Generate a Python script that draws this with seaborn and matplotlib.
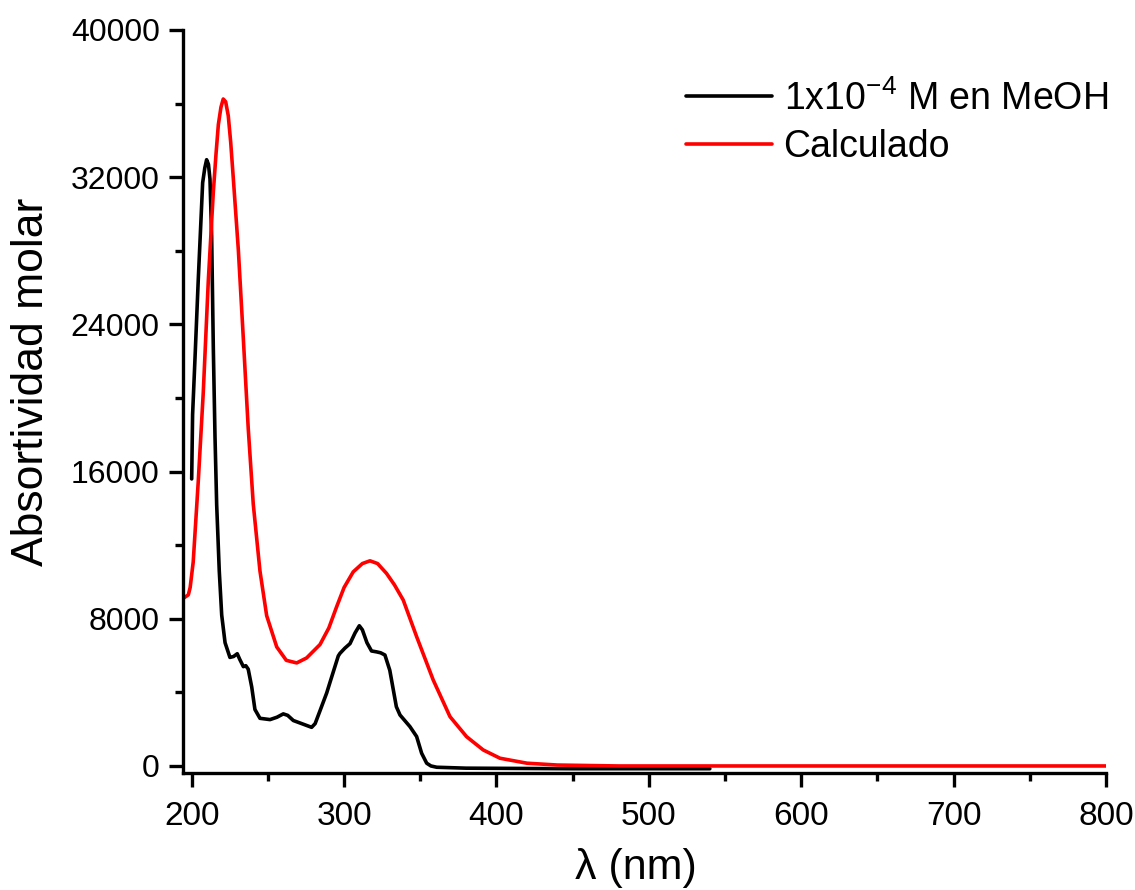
import matplotlib
matplotlib.use("Agg")
import matplotlib.pyplot as plt
import seaborn as sns
import numpy as np
import pandas as pd
from matplotlib.ticker import MultipleLocator

# ---- data ----
exp_nm = [200, 200.6, 202.2, 204.3, 207.2, 208.6, 209.8, 211, 212, 213.1, 214.2, 215.3, 216.4,
          218.1, 219.7, 221.9, 225.1, 227.5, 229.9, 231.5, 233.9, 235.5, 237.1, 239.4,
          241.5, 244.8, 251.4, 256, 260.1, 263, 266.7, 273.2, 278.7, 281, 284.2, 288.6,
          290.7, 294, 296.2, 297.3, 300.5, 303.9, 307.2, 310, 312, 315, 318, 321.4, 324,
          326.8, 330, 334.3, 336.7, 340, 343.2, 347.6, 350.9, 354.2, 357, 360.8, 380,
          450, 540]
exp_abs = [15600, 19100, 22200, 26400, 31700, 32500, 32950, 32700, 31900, 28800, 22700, 17900, 14200,
           10600, 8200, 6700, 5900, 5950, 6100, 5800, 5400, 5450, 5260, 4290,
           3070, 2590, 2520, 2650, 2830, 2750, 2470, 2270, 2100, 2300, 3000, 3970,
           4530, 5400, 5980, 6120, 6400, 6650, 7230, 7620, 7400, 6700, 6250, 6200, 6150,
           6030, 5200, 3220, 2770, 2450, 2140, 1600, 690, 150, 0, -70, -120,
           -150, -150]

calc_nm = [195, 197.8, 199, 201, 204.3, 207.6, 210.9, 214.2, 216, 217.5, 219.2, 220.7, 222.3,
           224, 225.6, 227.3, 230.6, 233.9, 237.1, 240.4, 244.8, 249.2, 255.8, 262.1, 268.9,
           275.4, 284.2, 290, 295.1, 300, 306, 312, 317, 322, 327.8, 333, 338.8, 347.6, 358.5,
           369.5, 380.4, 391.3, 402.3, 420, 440, 480, 800]
calc_abs = [9140, 9300, 9700, 11090, 15450, 20300, 26360, 31200, 33300, 34860, 35800, 36250, 36100,
            35340, 33900, 31950, 28070, 23210, 18360, 14240, 10600, 8170, 6470, 5740, 5600,
            5870, 6600, 7500, 8650, 9700, 10550, 11000, 11150, 11000, 10470, 9850, 9020, 7030, 4670,
            2680, 1590, 870, 420, 150, 50, 0, 0]

labels = [r"1x10$^{-4}$ M en MeOH", "Calculado"]
colors = ["#000000", "#ff0000"]
x_ticks = [200, 300, 400, 500, 600, 700, 800]
y_ticks = [0, 8000, 16000, 24000, 32000, 40000]

sns.set_theme(style="ticks")
plt.rcParams["font.family"] = ["Liberation Sans", "DejaVu Sans"]
plt.rcParams["mathtext.fontset"] = "custom"
plt.rcParams["mathtext.rm"] = "Liberation Sans"
plt.rcParams["mathtext.it"] = "Liberation Sans:italic"
plt.rcParams["mathtext.default"] = "regular"
plt.rcParams["text.color"] = "black"
plt.rcParams["axes.labelcolor"] = "black"

df_exp = pd.DataFrame({"nm": exp_nm, "abs": exp_abs})
df_calc = pd.DataFrame({"nm": calc_nm, "abs": calc_abs})

fig = plt.figure(figsize=(11.35, 8.9), dpi=100)
ax = fig.add_axes([0.1615, 0.1311, 0.9745 - 0.1615, 0.9663 - 0.1311])

sns.lineplot(data=df_exp, x="nm", y="abs", ax=ax, color=colors[0], linewidth=2.6,
             estimator=None, sort=False, label=labels[0])
sns.lineplot(data=df_calc, x="nm", y="abs", ax=ax, color=colors[1], linewidth=2.6,
             estimator=None, sort=False, label=labels[1])

ax.set_xlim(194.5, 800)
ax.set_ylim(-400, 40000)
ax.set_xticks(x_ticks)
ax.set_yticks(y_ticks)
ax.set_xticklabels([str(v) for v in x_ticks])
ax.set_yticklabels([str(v) for v in y_ticks])
ax.xaxis.set_minor_locator(MultipleLocator(50))
ax.yaxis.set_minor_locator(MultipleLocator(4000))

for s in ["top", "right"]:
    ax.spines[s].set_visible(False)
for s in ["left", "bottom"]:
    ax.spines[s].set_linewidth(2.4)
    ax.spines[s].set_color("black")

ax.tick_params(axis="both", which="major", direction="out", length=10, width=2.4,
               colors="black")
ax.tick_params(axis="both", which="minor", direction="out", length=6, width=2.4,
               colors="black")
ax.tick_params(axis="x", which="major", labelsize=24, pad=10)
ax.tick_params(axis="y", which="major", labelsize=23, pad=7)

ax.set_xlabel("λ (nm)", fontsize=31)
ax.xaxis.set_label_coords(0.49, -0.1)
ax.set_ylabel("Absortividad molar", fontsize=32)
ax.yaxis.set_label_coords(-0.142, 0.526)

leg = ax.legend(loc="upper left", bbox_to_anchor=(686 / 1135, 1 - 80 / 890),
                bbox_transform=fig.transFigure, frameon=False, fontsize=27,
                handlelength=2.3, handletextpad=0.3, labelspacing=0.3,
                borderpad=0, borderaxespad=0)
for line in leg.get_lines():
    line.set_linewidth(2.6)

fig.savefig("out.png", dpi=100)
